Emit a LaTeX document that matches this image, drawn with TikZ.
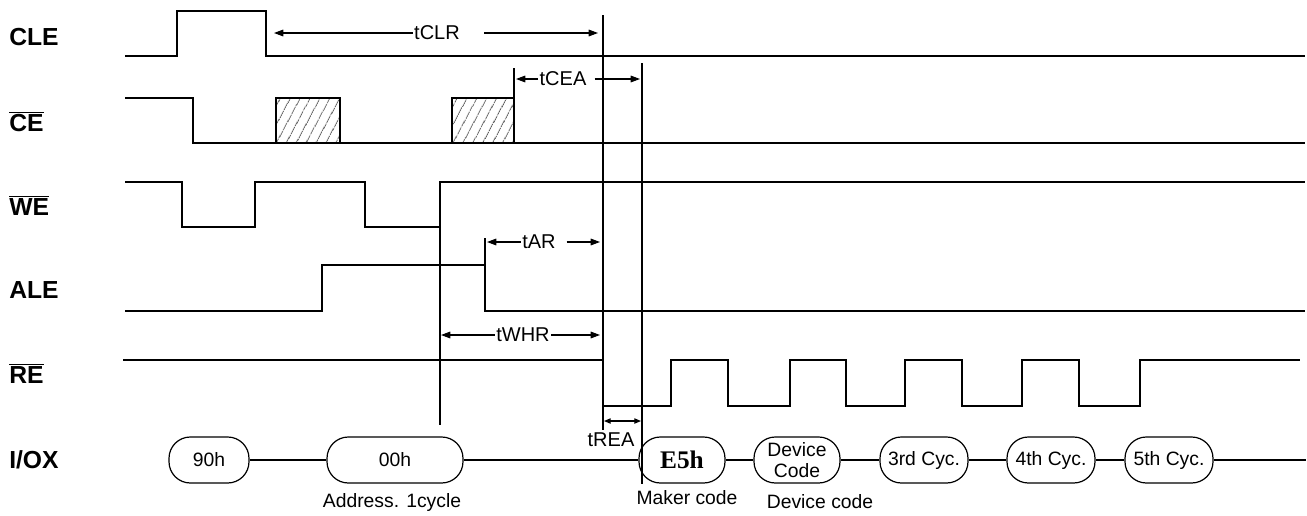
\documentclass[tikz,border=0pt]{standalone}
\usepackage{fontspec}
\setmainfont{Liberation Sans}
\newfontfamily\hexfont{Liberation Serif}
\usetikzlibrary{arrows.meta, patterns.meta}

\newcommand{\negsig}[1]{$\overline{\mbox{#1}}$}

\tikzset{
  sig/.style={line width=0.9pt},
  pin/.style={anchor=base west, inner sep=0pt, font=\fontsize{18.5}{20}\selectfont\bfseries},
  cyc/.style={draw, line width=0.9pt, rounded corners=16pt, minimum height=34.5pt, inner sep=0pt,
    font=\fontsize{14.5}{15.75}\selectfont, align=center},
  tlbl/.style={inner sep=1pt, font=\fontsize{15}{16}\selectfont},
  note/.style={inner sep=0pt, font=\fontsize{14.5}{16}\selectfont},
  dim/.style={line width=0.8pt, -{Triangle[length=7pt,width=5pt]}},
  hatch/.style={pattern={Lines[angle=62,distance=6.5pt,line width=0.4pt]}}
}

\begin{document}
\begin{tikzpicture}[x=0.75pt, y=-0.75pt]
\useasboundingbox (0,0) rectangle (1307,515);

\node[pin] (cle) at (9,45) {CLE};
\node[pin] (ce) at (9,131) {\negsig{CE}};
\node[pin] (we) at (9,215) {\negsig{WE}};
\node[pin] (ale) at (9,298) {ALE};
\node[pin] (re) at (9,383) {\negsig{RE}};
\node[pin] (io) at (9,468) {I/OX};

\draw[sig] (125,56) -- (177,56) -- (177,11) -- (266,11) -- (266,56) -- (1305,56);
\draw[sig] (125,98) -| (193,143) -- (1305,143);
\draw[sig, hatch] (276,143) rectangle (340,98);
\draw[sig, hatch] (452,143) rectangle (514,98);
\draw[sig] (125,182) -| (182,227) -| (255,182) -| (365,227) -| (440,182) -- (1305,182);
\draw[sig] (125,311) -| (322,265) -| (485,311) -- (1305,311);
\draw[sig] (123,360) -| (603,406) -| (671,360) -| (728,406) -| (790,360) -| (846,406)
  -| (905,360) -| (962,406) -| (1022,360) -| (1079,406) -| (1140,360) -- (1300,360);

\draw[sig] (603,15) -- (603,430);
\draw[sig] (642,63) -- (642,484);
\draw[sig] (440,182) -- (440,425);
\draw[sig] (514,98) -- (514,68);
\draw[sig] (485,238) -- (485,265);

\coordinate (clrL) at (274,33);
\coordinate (clrR) at (598,33);
\coordinate (ceaL) at (516,79);
\coordinate (ceaR) at (640,79);
\coordinate (arL) at (487,242);
\coordinate (arR) at (600,242);
\coordinate (whrL) at (441,335);
\coordinate (whrR) at (600,335);
\coordinate (reaL) at (604,421);
\coordinate (reaR) at (641,421);

\node[tlbl] (tclr) at (437,33) {tCLR};
\node[tlbl] (tcea) at (563,79) {tCEA};
\node[tlbl] (tar) at (539,242) {tAR};
\node[tlbl] (twhr) at (523,335) {tWHR};
\node[tlbl] (trea) at (611,440) {tREA};

\draw[dim] (tclr.west) -- (clrL);
\draw[dim] ([xshift=17pt]tclr.east) -- (clrR);
\draw[dim] (tcea.west) -- (ceaL);
\draw[dim] ([xshift=5pt]tcea.east) -- (ceaR);
\draw[dim] (tar.west) -- (arL);
\draw[dim] ([xshift=7pt]tar.east) -- (arR);
\draw[dim] (twhr.west) -- (whrL);
\draw[dim] (twhr.east) -- (whrR);
\draw[line width=0.8pt, {Triangle[length=5pt,width=4pt]}-{Triangle[length=5pt,width=4pt]}] (reaL) -- (reaR);

\node[cyc, minimum width=60pt] (c90) at (209,460) {90h};
\node[cyc, minimum width=102pt] (c00) at (395,460) {00h};
\node[cyc, minimum width=64.5pt, font=\hexfont\bfseries\fontsize{19}{20}\selectfont] (ce5) at (682,460) {E5h};
\node[cyc, minimum width=64.5pt] (cdev) at (797,460) {Device\\Code};
\node[cyc, minimum width=66pt] (c3) at (924,460) {3rd Cyc.};
\node[cyc, minimum width=66pt] (c4) at (1051,460) {4th Cyc.};
\node[cyc, minimum width=66pt] (c5) at (1169,460) {5th Cyc.};
\coordinate (ioEnd) at (1306,460);

\draw[sig] (c90) -- (c00);
\draw[sig] (c00) -- (ce5);
\draw[sig] (ce5) -- (cdev);
\draw[sig] (cdev) -- (c3);
\draw[sig] (c3) -- (c4);
\draw[sig] (c4) -- (c5);
\draw[sig] (c5) -- (ioEnd);

\node[note] (addr) at (392,502) {Address. 1cycle};
\node[note] (maker) at (687,498) {Maker code};
\node[note] (devc) at (820,502) {Device code};

\end{tikzpicture}
\end{document}
